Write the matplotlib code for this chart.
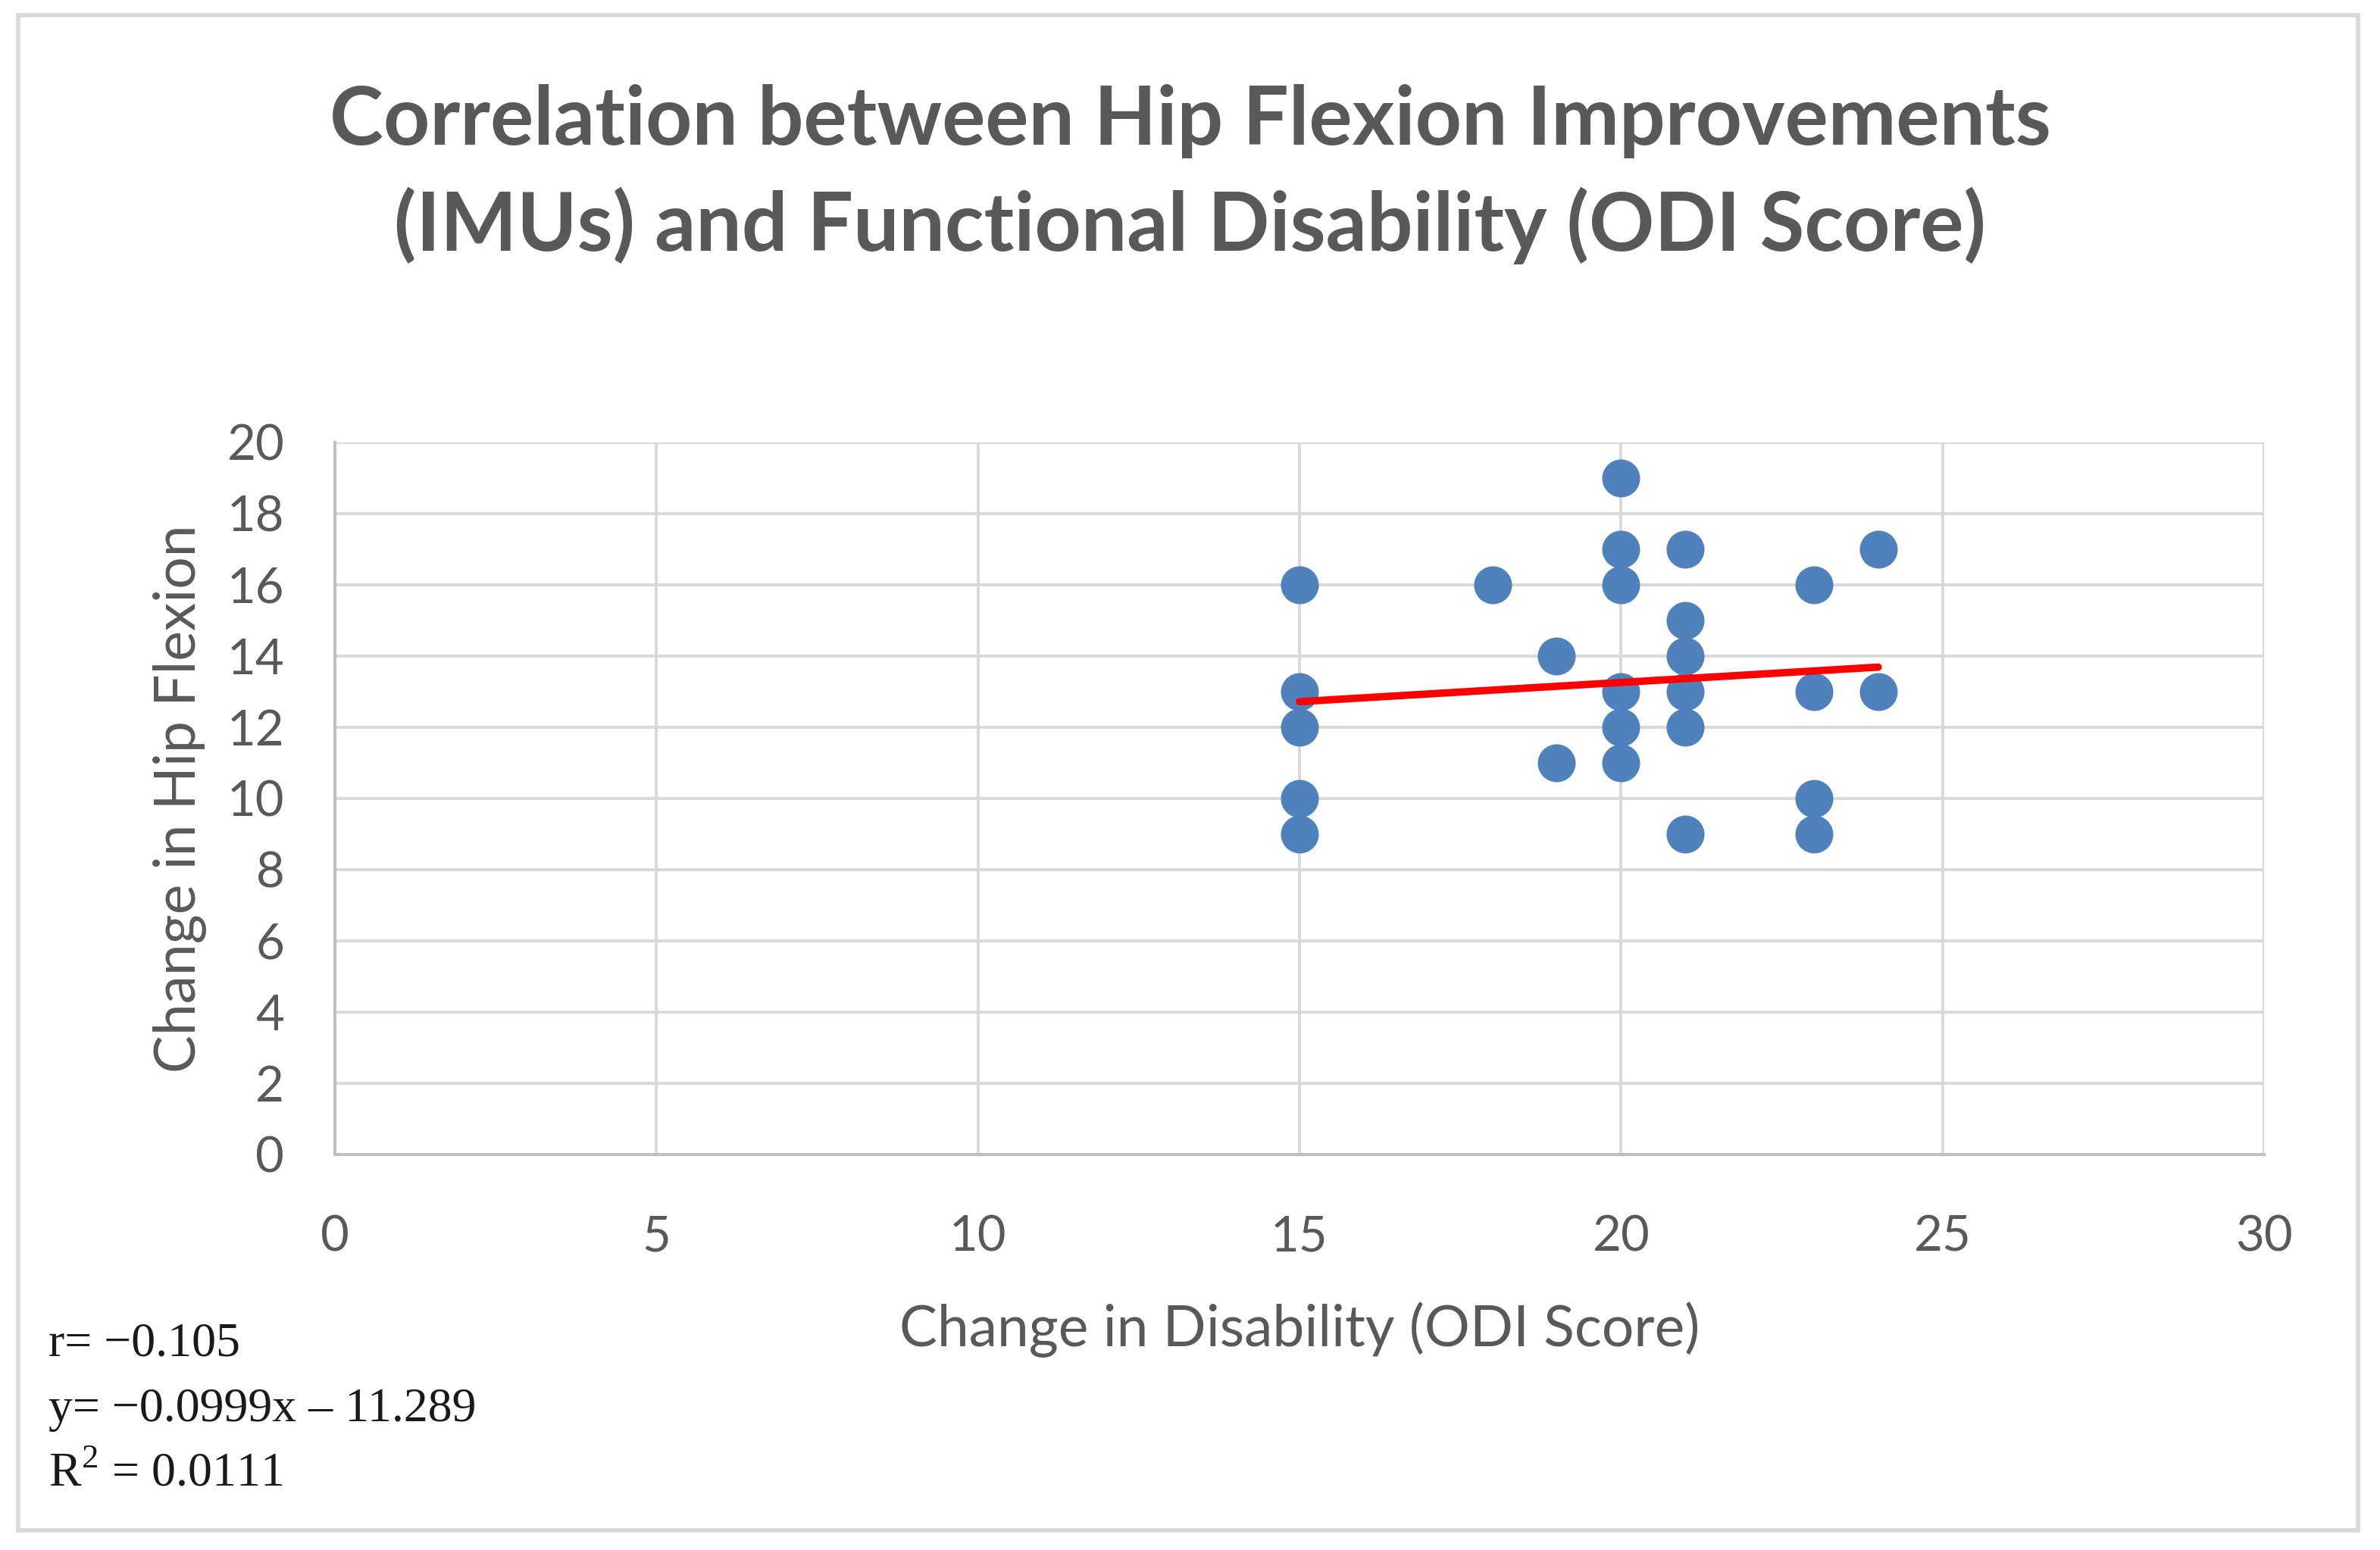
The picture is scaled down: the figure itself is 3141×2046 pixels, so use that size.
import matplotlib
matplotlib.use("Agg")
import matplotlib.pyplot as plt
from matplotlib.patches import Rectangle

# ---- data ----
odi_change = [15, 15, 15, 15, 15,
              18,
              19, 19,
              20, 20, 20, 20, 20, 20,
              21, 21, 21, 21, 21, 21,
              23, 23, 23, 23,
              24, 24]
hip_change = [16, 13, 12, 10, 9,
              16,
              14, 11,
              19, 17, 16, 13, 12, 11,
              17, 15, 14, 13, 12, 9,
              16, 13, 10, 9,
              17, 13]
trend_x = [15, 24]
trend_y = [12.72, 13.69]

x_ticks = [0, 5, 10, 15, 20, 25, 30]
y_ticks = [0, 2, 4, 6, 8, 10, 12, 14, 16, 18, 20]

title = "Correlation between Hip Flexion Improvements\n(IMUs) and Functional Disability (ODI Score)"
x_label = "Change in Disability (ODI Score)"
y_label = "Change in Hip Flexion"
stats_lines = ["r= \u22120.105", "y= \u22120.0999x \u2013 11.289", "R$^2$ = 0.0111"]

TXT = "#595959"
GRID = "#d9d9d9"
BLUE = "#4f81bd"

plt.rcParams['font.family'] = ['Lato', 'DejaVu Sans']
plt.rcParams['mathtext.fontset'] = 'custom'
plt.rcParams['mathtext.rm'] = 'Liberation Serif'

W, H = 3141, 2046
fig = plt.figure(figsize=(W / 100, H / 100), dpi=100)
fig.patch.set_facecolor("white")

# outer border
fig.patches.append(Rectangle((24 / W, 26 / H), (3112 - 24) / W, (2026 - 26) / H,
                             transform=fig.transFigure, fill=False,
                             edgecolor="#d9d9d9", linewidth=4))

ax = fig.add_axes([442 / W, 1 - 1524 / H, (2988 - 442) / W, (1524 - 584) / H])
ax.set_xlim(0, 30)
ax.set_ylim(0, 20)
ax.set_xticks(x_ticks)
ax.set_yticks(y_ticks)
ax.grid(True, color=GRID, linewidth=2.8)
ax.set_axisbelow(True)
for s in ["top", "right"]:
    ax.spines[s].set_visible(False)
for s in ["left", "bottom"]:
    ax.spines[s].set_color("#bfbfbf")
    ax.spines[s].set_linewidth(3)
ax.tick_params(length=0, labelsize=47, labelcolor=TXT)
ax.tick_params(axis='y', pad=48)
ax.tick_params(axis='x', pad=57)

ax.plot(odi_change, hip_change, linestyle="none", marker="o", markersize=35,
        color=BLUE, zorder=3)
ax.plot(trend_x, trend_y, color="#ff0000", linewidth=7, solid_capstyle="round", zorder=4)

ax.set_xlabel(x_label, fontsize=54, color=TXT, labelpad=40)
ax.set_ylabel(y_label, fontsize=54, color=TXT, labelpad=19)

fig.text(0.5, 1 - 230 / H, title, ha="center", va="center", fontsize=77,
         fontweight="bold", color=TXT, linespacing=1.45)

for i, line in enumerate(stats_lines):
    fig.text(64 / W, 1 - (1775 + i * 86) / H, line, ha="left", va="center",
             fontsize=46, color="#1a1a1a",
             family=['Liberation Serif', 'DejaVu Serif'])

fig.savefig("out.png", dpi=100, facecolor="white")
